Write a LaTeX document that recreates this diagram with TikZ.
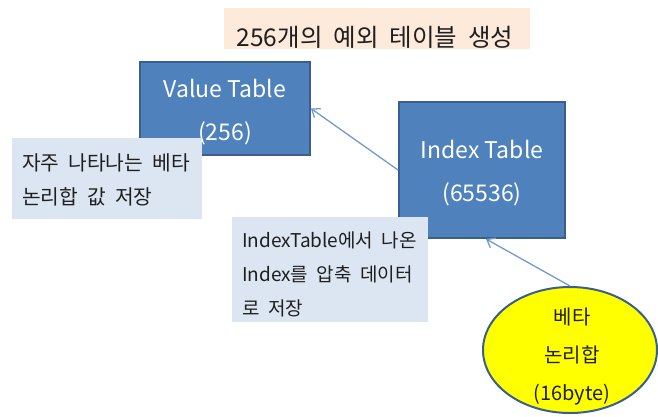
\documentclass[tikz,border=0pt]{standalone}
\usepackage{fontspec}
\setmainfont{Noto Sans CJK KR}
\newfontfamily\krwide[WordSpace=1.4]{Noto Sans CJK KR}
\newfontfamily\krtitle[WordSpace=2]{Noto Sans CJK KR}
\usetikzlibrary{shapes.geometric,arrows.meta}
\definecolor{boxblue}{HTML}{4F81BD}
\definecolor{boxedge}{HTML}{3A5F8F}
\definecolor{notefill}{HTML}{DCE6F2}
\definecolor{titlefill}{HTML}{FDEADA}
\definecolor{arrowblue}{HTML}{7399CF}
\definecolor{ellfill}{HTML}{FFFF00}
\tikzset{
  tablebox/.style={draw=boxedge, line width=2pt, fill=boxblue, inner sep=0pt},
  tabletext/.style={text=white, inner sep=0pt, align=center, font=\fontsize{23}{43}\selectfont},
  notebox/.style={fill=notefill, draw=none, inner sep=0pt},
  notetext/.style={anchor=west, align=left, inner sep=0pt, text=black!88,
    font=\krwide\fontsize{20.3}{34}\selectfont},
  titlebox/.style={fill=titlefill, draw=none, inner sep=0pt},
  titletext/.style={inner sep=0pt, text=black!88, font=\krtitle\fontsize{24.5}{28}\selectfont},
  bubble/.style={ellipse, draw=boxedge, line width=2pt, fill=ellfill, inner sep=0pt},
  bubbletext/.style={inner sep=0pt, align=center, text=black!88, font=\fontsize{20}{38}\selectfont},
  link/.style={draw=arrowblue, line width=1.3pt, -{Straight Barb[length=7pt,width=11pt,line width=1.3pt]}}
}
\begin{document}
\begin{tikzpicture}[x=1pt,y=-1pt]
\useasboundingbox (0,0) rectangle (658,416);
\fill[white] (0,0) rectangle (658,416);
% title
\node[titlebox, minimum width=306pt, minimum height=41pt] (title) at (377,28.5) {};
\node[titletext] (titletxt) at (375,37) {256개의 예외 테이블 생성};
% value table
\node[tablebox, minimum width=170pt, minimum height=93pt] (val) at (225,108.5) {};
\node[tabletext] (valtxt) at (225,112.5) {Value Table\\(256)};
% note 1
\node[notebox, minimum width=190pt, minimum height=81pt] (note1) at (107,178.5) {};
\node[notetext] (note1txt) at (22,180) {자주 나타나는 베타\\논리합 값 저장};
% index table
\node[tablebox, minimum width=166pt, minimum height=136pt] (idx) at (482,170) {};
\node[tabletext] (idxtxt) at (482,173.5) {Index Table\\(65536)};
% note 2
\node[notebox, minimum width=196pt, minimum height=105pt] (note2) at (330,269.5) {};
\node[notetext, font=\krwide\fontsize{19}{34}\selectfont] (note2txt) at (242,274) {IndexTable에서 나온\\Index를 압축 데이터\\로 저장};
% ellipse
\node[bubble, minimum width=174pt, minimum height=126pt] (ell) at (570,350) {};
\node[bubbletext] (elltxt) at (572,357) {베타\\논리합\\(16byte)};
% connectors
\draw[link] (idx.west) -- (val.east);
\draw[link] (ell.north) -- ([xshift=4pt]idx.south);
\end{tikzpicture}
\end{document}
